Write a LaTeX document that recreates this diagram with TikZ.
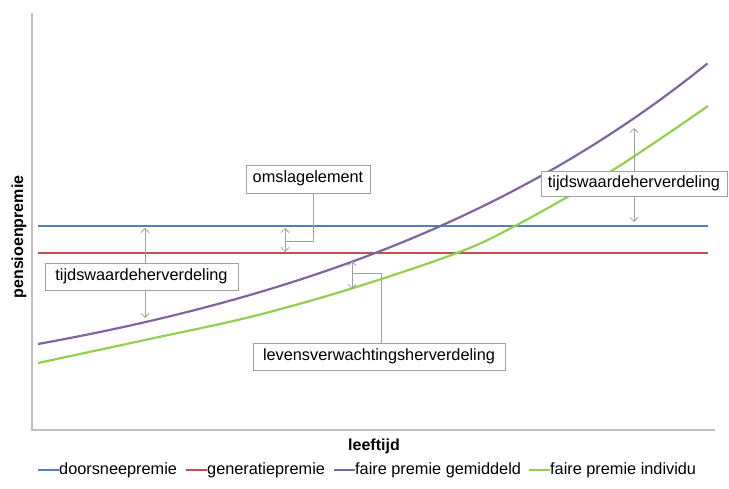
\documentclass[tikz,border=0pt]{standalone}
\usepackage{fontspec}
\setmainfont{Liberation Sans}
\usetikzlibrary{arrows.meta}
\definecolor{cblue}{HTML}{4F81BD}
\definecolor{cred}{HTML}{C0504D}
\definecolor{cpurple}{HTML}{8064A2}
\definecolor{cgreen}{HTML}{92D050}
\definecolor{axisc}{HTML}{BFBFBF}
\definecolor{annc}{HTML}{A0A0A0}
\begin{document}
\begin{tikzpicture}[x=1pt,y=-1pt,
  txt/.style={font=\fontsize{16.3}{19}\selectfont, inner sep=0pt, text height=11.5pt, text depth=3.5pt},
  boldtxt/.style={font=\fontsize{16}{19}\selectfont\bfseries, inner sep=0pt},
  annbox/.style={txt, draw=annc, fill=white, line width=0.8pt},
  dimarrow/.style={draw=annc, line width=0.8pt, {Straight Barb[length=4pt,width=8pt]}-{Straight Barb[length=4pt,width=8pt]}},
  leader/.style={draw=annc, line width=0.8pt},
  series/.style={line width=2.2pt},
  axisline/.style={draw=axisc, line width=1.5pt}]
\useasboundingbox (0,0) rectangle (729,489);

% axes
\coordinate (ytop) at (32,13);
\coordinate (orig) at (32,430);
\coordinate (xend) at (715,430);
\draw[axisline] (ytop) -- (orig) -- (xend);

% series
\draw[series, cblue] (38,226) -- (708,226);
\draw[series, cred] (38,253) -- (708,253);
\draw[series, cpurple] plot[domain=0:1, samples=60, smooth] ({38+670*\x},{430-(5.3+80.7*exp(1.5*\x))});
\draw[series, cgreen] plot[smooth, tension=0.55] coordinates {(38,363) (145,340) (250,317) (350,289) (457,253) (515,226) (600,178) (660,139) (708,106)};

% annotation arrows
\coordinate (a1t) at (145,228);
\coordinate (a1b) at (145,318);
\draw[dimarrow] (a1t) -- (a1b);

\coordinate (a2t) at (285,228);
\coordinate (a2b) at (285,252);
\draw[dimarrow] (a2t) -- (a2b);

\coordinate (a3t) at (352,261);
\coordinate (a3b) at (352,289);
\draw[dimarrow] (a3t) -- (a3b);

\coordinate (a4t) at (634,128);
\coordinate (a4b) at (634,222);
\draw[dimarrow] (a4t) -- (a4b);

% boxes
\node[annbox, minimum width=193pt, minimum height=27pt] (tw1) at (141.5,276.5) {tijdswaardeherverdeling};
\node[annbox, minimum width=124pt, minimum height=28pt] (oms) at (308,179) {omslagelement};
\node[annbox, minimum width=252pt, minimum height=27pt] (lev) at (379,356.5) {levensverwachtingsherverdeling};
\node[annbox, minimum width=186pt, minimum height=25pt] (tw2) at (634,184) {tijdswaardeherverdeling};

% leaders
\coordinate (l2) at (313,241);
\coordinate (l2e) at (285,241);
\draw[leader] (oms.south -| l2) -- (l2) -- (l2e);
\coordinate (l3) at (381,273);
\coordinate (l3e) at (352,273);
\draw[leader] (lev.north -| l3) -- (l3) -- (l3e);

% axis titles
\node[boldtxt, rotate=90] (ylab) at (19,237) {pensioenpremie};
\node[boldtxt] (xlab) at (374,446) {leeftijd};

% legend
\coordinate (lg1) at (38,470);
\coordinate (lg1e) at (59,470);
\draw[series, cblue] (lg1) -- (lg1e);
\node[txt, anchor=west] (lt1) at (59,470) {doorsneepremie};
\coordinate (lg2) at (186,470);
\coordinate (lg2e) at (207,470);
\draw[series, cred] (lg2) -- (lg2e);
\node[txt, anchor=west] (lt2) at (207,470) {generatiepremie};
\coordinate (lg3) at (334,470);
\coordinate (lg3e) at (355,470);
\draw[series, cpurple] (lg3) -- (lg3e);
\node[txt, anchor=west] (lt3) at (355,470) {faire premie gemiddeld};
\coordinate (lg4) at (529,470);
\coordinate (lg4e) at (550,470);
\draw[series, cgreen] (lg4) -- (lg4e);
\node[txt, anchor=west] (lt4) at (550,470) {faire premie individu};
\end{tikzpicture}
\end{document}
